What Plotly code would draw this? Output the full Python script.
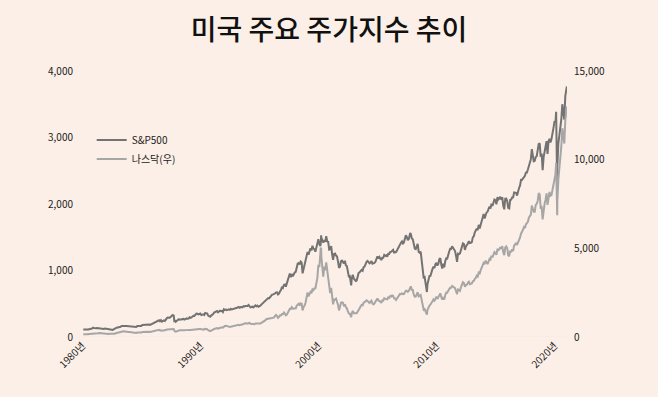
import plotly.graph_objects as go
import pandas as pd

TITLE = "미국 주요 주가지수 추이"
SP_NAME = "S&P500"
NQ_NAME = "나스닥(우)"

YEARS = list(range(1980, 2021))

# S&P 500 monthly closes, Jan..Dec per year
SP500 = {
    1980: [114.16, 113.66, 102.09, 106.29, 111.24, 114.24, 121.67, 122.38, 125.46, 127.47, 140.52, 135.76],
    1981: [129.55, 131.27, 136.00, 132.81, 132.59, 131.21, 130.92, 122.79, 116.18, 121.89, 126.35, 122.55],
    1982: [120.40, 113.11, 111.96, 116.44, 111.88, 109.61, 107.09, 119.51, 120.42, 133.71, 138.54, 140.64],
    1983: [145.30, 148.06, 152.96, 164.42, 162.39, 168.11, 162.56, 164.40, 166.07, 163.55, 166.40, 164.93],
    1984: [163.41, 157.06, 159.18, 160.05, 150.55, 153.18, 150.66, 166.68, 166.10, 166.09, 163.58, 167.24],
    1985: [179.63, 181.18, 180.66, 179.83, 189.55, 191.85, 190.92, 188.63, 182.08, 189.82, 202.17, 211.28],
    1986: [211.78, 226.92, 238.90, 235.52, 247.35, 250.84, 236.12, 252.93, 231.32, 243.98, 249.22, 242.17],
    1987: [274.08, 284.20, 291.70, 288.36, 290.10, 304.00, 318.66, 329.80, 321.83, 251.79, 230.30, 247.08],
    1988: [257.07, 267.82, 258.89, 261.33, 262.16, 273.50, 272.02, 261.52, 271.91, 278.97, 273.70, 277.72],
    1989: [297.47, 288.86, 294.87, 309.64, 320.52, 317.98, 346.08, 351.45, 349.15, 340.36, 345.99, 353.40],
    1990: [329.08, 331.89, 339.94, 330.80, 361.23, 358.02, 356.15, 322.56, 306.05, 304.00, 322.22, 330.22],
    1991: [343.93, 367.07, 375.22, 375.35, 389.83, 371.16, 387.81, 395.43, 387.86, 392.45, 375.22, 417.09],
    1992: [408.79, 412.70, 403.69, 414.95, 415.35, 408.14, 424.21, 414.03, 417.80, 418.68, 431.35, 435.71],
    1993: [438.78, 443.38, 451.67, 440.19, 450.19, 450.53, 448.13, 463.56, 458.93, 467.83, 461.79, 466.45],
    1994: [481.61, 467.14, 445.77, 450.91, 456.50, 444.27, 458.26, 475.49, 462.69, 472.35, 453.69, 459.27],
    1995: [470.42, 487.39, 500.71, 514.71, 533.40, 544.75, 562.06, 561.88, 584.41, 581.50, 605.37, 615.93],
    1996: [636.02, 640.43, 645.50, 654.17, 669.12, 670.63, 639.95, 651.99, 687.33, 705.27, 757.02, 740.74],
    1997: [786.16, 790.82, 757.12, 801.34, 848.28, 885.14, 954.29, 899.47, 947.28, 914.62, 955.40, 970.43],
    1998: [980.28, 1049.34, 1101.75, 1111.75, 1090.82, 1133.84, 1120.67, 957.28, 1017.01, 1098.67, 1163.63, 1229.23],
    1999: [1279.64, 1238.33, 1286.37, 1335.18, 1301.84, 1372.71, 1328.72, 1320.41, 1282.71, 1362.93, 1388.91, 1469.25],
    2000: [1394.46, 1366.42, 1498.58, 1452.43, 1420.60, 1454.60, 1430.83, 1517.68, 1436.51, 1429.40, 1314.95, 1320.28],
    2001: [1366.01, 1239.94, 1160.33, 1249.46, 1255.82, 1224.42, 1211.23, 1133.58, 1040.94, 1059.78, 1139.45, 1148.08],
    2002: [1130.20, 1106.73, 1147.39, 1076.92, 1067.14, 989.82, 911.62, 916.07, 815.28, 885.76, 936.31, 879.82],
    2003: [855.70, 841.15, 848.18, 916.92, 963.59, 974.50, 990.31, 1008.01, 995.97, 1050.71, 1058.20, 1111.92],
    2004: [1131.13, 1144.94, 1126.21, 1107.30, 1120.68, 1140.84, 1101.72, 1104.24, 1114.58, 1130.20, 1173.82, 1211.92],
    2005: [1181.27, 1203.60, 1180.59, 1156.85, 1191.50, 1191.33, 1234.18, 1220.33, 1228.81, 1207.01, 1249.48, 1248.29],
    2006: [1280.08, 1280.66, 1294.83, 1310.61, 1270.09, 1270.20, 1276.66, 1303.82, 1335.85, 1377.94, 1400.63, 1418.30],
    2007: [1438.24, 1406.82, 1420.86, 1482.37, 1530.62, 1503.35, 1455.27, 1473.99, 1526.75, 1549.38, 1481.14, 1468.36],
    2008: [1378.55, 1330.63, 1322.70, 1385.59, 1400.38, 1280.00, 1267.38, 1282.83, 1166.36, 968.75, 896.24, 903.25],
    2009: [825.88, 735.09, 797.87, 872.81, 919.14, 919.32, 987.48, 1020.62, 1057.08, 1036.19, 1095.63, 1115.10],
    2010: [1073.87, 1104.49, 1169.43, 1186.69, 1089.41, 1030.71, 1101.60, 1049.33, 1141.20, 1183.26, 1180.55, 1257.64],
    2011: [1286.12, 1327.22, 1325.83, 1363.61, 1345.20, 1320.64, 1292.28, 1218.89, 1131.42, 1253.30, 1246.96, 1257.60],
    2012: [1312.41, 1365.68, 1408.47, 1397.91, 1310.33, 1362.16, 1379.32, 1406.58, 1440.67, 1412.16, 1416.18, 1426.19],
    2013: [1498.11, 1514.68, 1569.19, 1597.57, 1630.74, 1606.28, 1685.73, 1632.97, 1681.55, 1756.54, 1805.81, 1848.36],
    2014: [1782.59, 1859.45, 1872.34, 1883.95, 1923.57, 1960.23, 1930.67, 2003.37, 1972.29, 2018.05, 2067.56, 2058.90],
    2015: [1994.99, 2104.50, 2067.89, 2085.51, 2107.39, 2063.11, 2103.84, 1972.18, 1920.03, 2079.36, 2080.41, 2043.94],
    2016: [1940.24, 1932.23, 2059.74, 2065.30, 2096.95, 2098.86, 2173.60, 2170.95, 2168.27, 2126.15, 2198.81, 2238.83],
    2017: [2278.87, 2363.64, 2362.72, 2384.20, 2411.80, 2423.41, 2470.30, 2471.65, 2519.36, 2575.26, 2647.58, 2673.61],
    2018: [2823.81, 2713.83, 2640.87, 2648.05, 2705.27, 2718.37, 2816.29, 2901.52, 2913.98, 2711.74, 2760.17, 2506.85],
    2019: [2704.10, 2784.49, 2834.40, 2945.83, 2752.06, 2941.76, 2980.38, 2926.46, 2976.74, 3037.56, 3140.98, 3230.78],
    2020: [3225.52, 2954.22, 2584.59, 2912.43, 3044.31, 3100.29, 3271.12, 3500.31, 3363.00, 3269.96, 3621.63, 3756.07],
}

# Nasdaq Composite monthly closes, Jan..Dec per year
NASDAQ = {
    1980: [161.75, 158.03, 131.00, 139.99, 150.45, 157.78, 171.81, 181.52, 187.76, 192.78, 208.15, 202.34],
    1981: [197.81, 198.01, 210.18, 216.74, 223.47, 215.75, 211.63, 195.75, 180.03, 195.24, 201.37, 195.84],
    1982: [188.39, 178.43, 175.65, 184.70, 178.54, 171.30, 167.35, 177.71, 187.65, 212.63, 232.31, 232.41],
    1983: [248.35, 260.67, 270.80, 293.06, 308.73, 318.70, 303.96, 292.42, 296.65, 276.20, 285.67, 278.60],
    1984: [268.43, 252.57, 250.78, 247.44, 232.82, 239.65, 230.49, 255.84, 249.94, 247.03, 242.53, 247.35],
    1985: [278.70, 284.17, 279.20, 280.56, 290.80, 296.20, 301.29, 297.71, 280.33, 292.54, 313.95, 324.93],
    1986: [335.77, 359.53, 374.72, 383.24, 391.51, 405.51, 371.37, 382.86, 350.67, 360.77, 359.57, 348.83],
    1987: [392.06, 424.97, 430.05, 417.81, 416.54, 424.67, 434.93, 454.97, 444.29, 323.30, 305.16, 330.47],
    1988: [344.66, 366.95, 374.64, 379.23, 370.34, 394.66, 387.33, 376.55, 387.71, 382.46, 371.45, 381.38],
    1989: [401.30, 399.71, 406.73, 427.55, 446.17, 435.29, 453.84, 469.33, 472.92, 455.63, 456.09, 454.82],
    1990: [415.81, 425.83, 435.54, 420.07, 458.97, 462.29, 438.24, 381.21, 344.51, 329.84, 359.06, 373.84],
    1991: [414.20, 453.05, 482.30, 484.72, 506.11, 475.92, 502.04, 525.68, 526.88, 542.98, 523.90, 586.34],
    1992: [620.21, 633.47, 603.77, 578.68, 585.31, 563.60, 580.83, 563.12, 583.27, 605.17, 652.73, 676.95],
    1993: [696.34, 670.77, 690.13, 661.42, 700.53, 703.95, 704.70, 742.84, 762.78, 779.26, 754.39, 776.80],
    1994: [800.47, 792.50, 743.46, 733.84, 735.19, 705.96, 722.16, 765.62, 764.29, 777.49, 750.32, 751.96],
    1995: [755.20, 793.73, 817.21, 843.98, 864.58, 933.45, 1001.21, 1020.11, 1043.54, 1036.06, 1059.20, 1052.13],
    1996: [1059.79, 1100.05, 1101.40, 1190.52, 1243.43, 1185.02, 1080.59, 1141.50, 1226.92, 1221.51, 1292.61, 1291.03],
    1997: [1379.85, 1309.00, 1221.70, 1260.76, 1400.32, 1442.07, 1593.81, 1587.32, 1685.69, 1593.61, 1600.55, 1570.35],
    1998: [1619.36, 1770.51, 1835.68, 1868.41, 1778.87, 1894.74, 1872.39, 1499.25, 1693.84, 1771.39, 1949.54, 2192.69],
    1999: [2505.89, 2288.03, 2461.40, 2542.85, 2470.52, 2686.12, 2638.49, 2739.35, 2746.16, 2966.43, 3336.16, 4069.31],
    2000: [3940.35, 4696.69, 4572.83, 3860.66, 3400.91, 3966.11, 3766.99, 4206.35, 3672.82, 3369.63, 2597.93, 2470.52],
    2001: [2772.73, 2151.83, 1840.26, 2116.24, 2110.49, 2160.54, 2027.13, 1805.43, 1498.80, 1690.20, 1930.58, 1950.40],
    2002: [1934.03, 1731.49, 1845.35, 1688.23, 1615.73, 1463.21, 1328.26, 1314.85, 1172.06, 1329.75, 1478.78, 1335.51],
    2003: [1320.91, 1337.52, 1341.17, 1464.31, 1595.91, 1622.80, 1735.02, 1810.45, 1786.94, 1932.21, 1960.26, 2003.37],
    2004: [2066.15, 2029.82, 1994.22, 1920.15, 1986.74, 2047.79, 1887.36, 1838.10, 1896.84, 1974.99, 2096.81, 2175.44],
    2005: [2062.41, 2051.72, 1999.23, 1921.65, 2068.22, 2056.96, 2184.83, 2152.09, 2151.69, 2120.30, 2232.82, 2205.32],
    2006: [2305.82, 2281.39, 2339.79, 2322.57, 2178.88, 2172.09, 2091.47, 2183.75, 2258.43, 2366.71, 2431.77, 2415.29],
    2007: [2463.93, 2416.15, 2421.64, 2525.09, 2604.52, 2603.23, 2546.27, 2596.36, 2701.50, 2859.12, 2660.96, 2652.28],
    2008: [2389.86, 2271.48, 2279.10, 2412.80, 2522.66, 2292.98, 2325.55, 2367.52, 2091.88, 1720.95, 1535.57, 1577.03],
    2009: [1476.42, 1377.84, 1528.59, 1717.30, 1774.33, 1835.04, 1978.50, 2009.06, 2122.42, 2045.11, 2144.60, 2269.15],
    2010: [2147.35, 2238.26, 2397.96, 2461.19, 2257.04, 2109.24, 2254.70, 2114.03, 2368.62, 2507.41, 2498.23, 2652.87],
    2011: [2700.08, 2782.27, 2781.07, 2873.54, 2835.30, 2773.52, 2756.38, 2579.46, 2415.40, 2684.41, 2620.34, 2605.15],
    2012: [2813.84, 2966.89, 3091.57, 3046.36, 2827.34, 2935.05, 2939.52, 3066.96, 3116.23, 2977.23, 3010.24, 3019.51],
    2013: [3142.13, 3160.19, 3267.52, 3328.79, 3455.91, 3403.25, 3626.37, 3589.87, 3771.48, 3919.71, 4059.89, 4176.59],
    2014: [4103.88, 4308.12, 4198.99, 4114.56, 4242.62, 4408.18, 4369.77, 4580.27, 4493.39, 4630.74, 4791.63, 4736.05],
    2015: [4635.24, 4963.53, 4900.88, 4941.42, 5070.03, 4986.87, 5128.28, 4776.51, 4620.16, 5053.75, 5108.67, 5007.41],
    2016: [4613.95, 4557.95, 4869.85, 4775.36, 4948.05, 4842.67, 5162.13, 5213.22, 5312.00, 5189.14, 5323.68, 5383.12],
    2017: [5614.79, 5825.44, 5911.74, 6047.61, 6198.52, 6140.42, 6348.12, 6428.66, 6495.96, 6727.67, 6873.97, 6903.39],
    2018: [7411.48, 7273.01, 7063.45, 7066.27, 7442.12, 7510.30, 7671.79, 8109.54, 8046.35, 7305.90, 7330.54, 6635.28],
    2019: [7281.74, 7532.53, 7729.32, 8095.39, 7453.15, 8006.24, 8175.42, 7962.88, 7999.34, 8292.36, 8665.47, 8972.60],
    2020: [9150.94, 8567.37, 7700.10, 8889.55, 9489.87, 10058.77, 10745.27, 11775.46, 11167.51, 10911.59, 12198.74, 12888.28],
}

# notable daily closes (date, S&P500, Nasdaq)
EXTRA_DATES = ["1987-10-19", "2000-03-10", "2000-03-24", "2002-10-09", "2007-10-09",
               "2009-03-09", "2020-02-19", "2020-03-23", "2021-01-15"]
EXTRA_SP = [224.84, 1395.07, 1527.46, 776.76, 1565.15, 676.53, 3386.15, 2237.40, 3768.25]
EXTRA_NQ = [360.21, 5048.62, 4963.03, 1114.11, 2803.91, 1268.64, 9817.18, 6860.67, 12998.50]

TICK_VALS = ["1980-01-01", "1990-01-01", "2000-01-01", "2010-01-01", "2020-01-01"]
TICK_TEXT = ["1980년", "1990년", "2000년", "2010년", "2020년"]
LEFT_TICKS = [0, 1000, 2000, 3000, 4000]
RIGHT_TICKS = [0, 5000, 10000, 15000]

rows = []
for y in YEARS:
    for m in range(12):
        rows.append((pd.Timestamp(year=y, month=m + 1, day=28), SP500[y][m], NASDAQ[y][m]))
for d, s, n in zip(EXTRA_DATES, EXTRA_SP, EXTRA_NQ):
    rows.append((pd.Timestamp(d), s, n))
df = pd.DataFrame(rows, columns=["date", "sp", "nq"]).sort_values("date")

BG = "#fcefe7"
FONT = "Noto Sans CJK KR"

fig = go.Figure()
fig.add_trace(go.Scatter(x=df["date"], y=df["sp"], name=SP_NAME, mode="lines",
                         line=dict(color="#737373", width=2), yaxis="y"))
fig.add_trace(go.Scatter(x=df["date"], y=df["nq"], name=NQ_NAME, mode="lines",
                         line=dict(color="#a6a6a6", width=2), yaxis="y2"))

fig.update_layout(
    width=658, height=397,
    paper_bgcolor=BG, plot_bgcolor=BG,
    margin=dict(l=82, r=91, t=71, b=60),
    font=dict(family=FONT, size=10, color="#222222"),
    title=dict(text=TITLE, x=0.5, xanchor="center", y=0.925, yanchor="middle",
               font=dict(family=FONT, size=28, color="#111111", weight=500)),
    showlegend=True,
    legend=dict(x=0.02, y=0.795, xanchor="left", yanchor="top",
                bgcolor="rgba(0,0,0,0)", font=dict(size=10, color="#222222"),
                itemwidth=30, tracegroupgap=4),
    xaxis=dict(type="date", range=["1979-12-20", "2021-01-20"],
               tickvals=TICK_VALS, ticktext=TICK_TEXT, tickangle=-45,
               showgrid=False, zeroline=False, showline=False, ticks="",
               tickfont=dict(size=10)),
    yaxis=dict(range=[0, 4000], tickvals=LEFT_TICKS, tickformat=",",
               showgrid=False, zeroline=False, showline=False,
               ticks="", ticklabelstandoff=8, tickfont=dict(size=10)),
    yaxis2=dict(range=[0, 15000], tickvals=RIGHT_TICKS, tickformat=",",
                overlaying="y", side="right",
                showgrid=False, zeroline=False, showline=False,
                ticks="", ticklabelstandoff=6, tickfont=dict(size=10)),
)
fig.add_hline(y=0, line=dict(color="#f7e8df", width=1))

fig.write_html("out.html", config={"displayModeBar": False},
               post_script="document.body.style.margin='0';document.body.style.overflow='hidden';")
